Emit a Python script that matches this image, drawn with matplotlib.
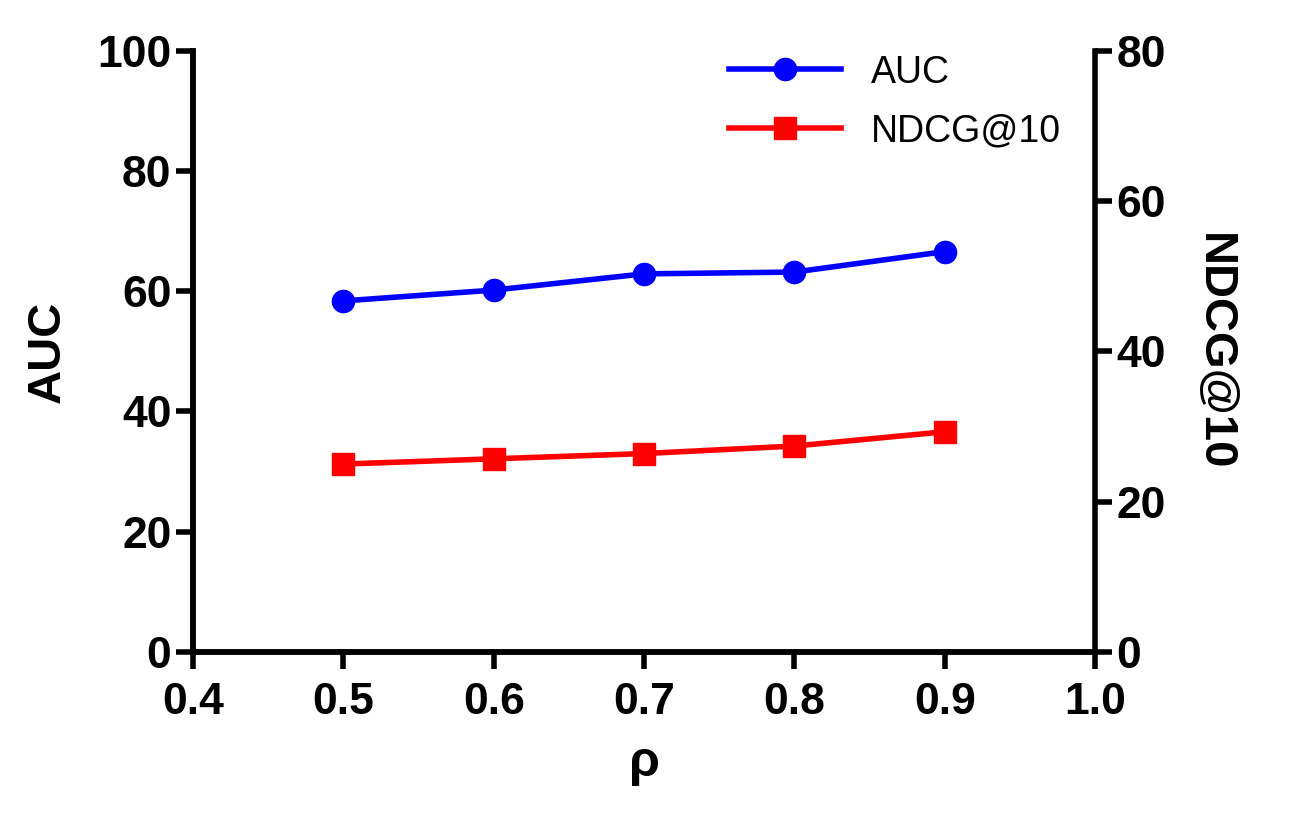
import matplotlib
matplotlib.use("Agg")
import matplotlib.pyplot as plt

rho = [0.5, 0.6, 0.7, 0.8, 0.9]
auc = [58.4, 60.2, 62.9, 63.2, 66.6]
ndcg = [25.0, 25.7, 26.4, 27.4, 29.3]

plt.rcParams['font.family'] = ['Liberation Sans', 'DejaVu Sans']
fig = plt.figure(figsize=(13.13, 8.21), dpi=100)
ax = fig.add_axes([0.147, 0.206, 0.687, 0.732])
ax2 = ax.twinx()

l1, = ax.plot(rho, auc, color='#0000ff', lw=4, marker='o', ms=16, label='AUC')
l2, = ax2.plot(rho, ndcg, color='#ff0000', lw=4, marker='s', ms=16, label='NDCG@10')

ax.set_xlim(0.4, 1.0)
ax.set_ylim(0, 100)
ax2.set_ylim(0, 80)
ax.set_xticks([0.4, 0.5, 0.6, 0.7, 0.8, 0.9, 1.0])
ax.set_yticks([0, 20, 40, 60, 80, 100])
ax2.set_yticks([0, 20, 40, 60, 80])

for a in (ax, ax2):
    for s in a.spines.values():
        s.set_linewidth(4)
    a.spines['top'].set_visible(False)
    a.tick_params(width=4, length=12, labelsize=32, direction='out')
    for t in a.get_xticklabels() + a.get_yticklabels():
        t.set_fontweight('bold')
ax.spines['right'].set_visible(False)
ax.tick_params(axis='x', pad=10)

ax.set_xlabel('ρ', fontsize=36, fontweight='bold', labelpad=12)
ax.set_ylabel('AUC', fontsize=34, fontweight='bold', labelpad=20)
ax2.set_ylabel('NDCG@10', fontsize=34, fontweight='bold', rotation=270, labelpad=50)

ax.legend(handles=[l1, l2], loc='upper right', bbox_to_anchor=(1.0, 1.05), frameon=False,
          fontsize=27, handlelength=3.0, labelspacing=0.6)

fig.savefig('out.png', dpi=100)
